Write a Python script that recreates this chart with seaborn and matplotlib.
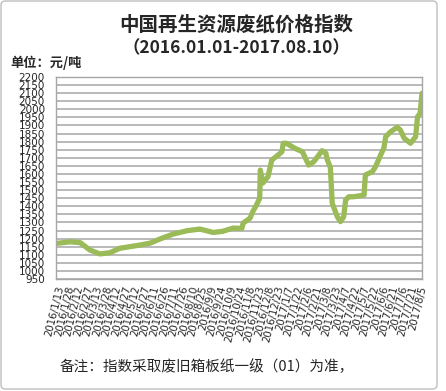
import numpy as np
import pandas as pd
import matplotlib
matplotlib.use("Agg")
import matplotlib.pyplot as plt
from matplotlib.patches import FancyBboxPatch
import seaborn as sns

# index readings
dates = ["2016-01-13", "2016-02-04", "2016-02-20", "2016-03-06", "2016-03-22",
         "2016-04-07", "2016-04-22", "2016-05-08", "2016-05-24", "2016-06-09",
         "2016-06-24", "2016-07-15", "2016-08-06", "2016-08-26", "2016-09-16",
         "2016-10-01", "2016-10-17", "2016-10-31", "2016-11-02", "2016-11-13",
         "2016-11-17", "2016-11-23", "2016-11-28", "2016-11-29", "2016-12-03",
         "2016-12-11", "2016-12-17", "2016-12-27", "2017-01-02", "2017-01-04",
         "2017-01-09", "2017-01-22", "2017-02-03", "2017-02-13", "2017-02-21",
         "2017-02-27", "2017-03-06", "2017-03-12", "2017-03-14", "2017-03-19",
         "2017-03-22", "2017-03-30", "2017-04-04", "2017-04-09", "2017-04-12",
         "2017-04-17", "2017-04-25", "2017-05-11", "2017-05-13", "2017-05-24",
         "2017-05-29", "2017-06-06", "2017-06-11", "2017-06-14", "2017-06-22",
         "2017-07-02", "2017-07-07", "2017-07-13", "2017-07-23", "2017-07-31",
         "2017-08-03", "2017-08-07", "2017-08-10"]
values = [1170, 1180, 1175, 1130, 1105,
          1113, 1140, 1150, 1160, 1172,
          1197, 1228, 1249, 1259, 1238,
          1245, 1265, 1263, 1296, 1327,
          1366, 1408, 1450, 1624, 1544,
          1583, 1686, 1717, 1738, 1790,
          1790, 1759, 1738, 1655, 1676,
          1707, 1744, 1728, 1690, 1640,
          1418, 1335, 1305, 1335, 1439,
          1459, 1459, 1470, 1594, 1614,
          1645, 1717, 1759, 1831, 1862,
          1889, 1872, 1821, 1790, 1831,
          1954, 1975, 2099]

tick_start = "2016-01-13"
tick_end = "2017-08-05"
y_ticks = list(range(950, 2201, 50))

df = pd.DataFrame({"date": pd.to_datetime(dates), "value": values})

sns.set_style("white")
plt.rcParams["font.family"] = ["Noto Sans CJK SC", "DejaVu Sans"]

fig = plt.figure(figsize=(4.46, 3.91), dpi=100)
ax = fig.add_axes([56 / 446, 1 - 279 / 391, 366 / 446, 202 / 391])

sns.lineplot(data=df, x="date", y="value", ax=ax, color="#9BBB59", lw=3.8,
             solid_joinstyle="round", solid_capstyle="round")

ax.set_xlim(pd.Timestamp("2016-01-13"), pd.Timestamp("2017-08-10"))
ax.set_ylim(950, 2200)
ax.set_yticks(y_ticks)
ax.set_yticklabels([str(v) for v in y_ticks], fontsize=7.5, family="DejaVu Sans")
ticks = pd.date_range(tick_start, tick_end, freq="15D")
ax.set_xticks(ticks)
ax.set_xticklabels([f"{d.year}/{d.month}/{d.day}" for d in ticks], fontsize=7.3,
                   rotation=76, ha="right", rotation_mode="anchor", family="DejaVu Sans")
ax.tick_params(axis="both", length=0)
ax.tick_params(axis="y", pad=8)
ax.tick_params(axis="x", pad=4)
ax.set_xlabel("")
ax.set_ylabel("")
ax.grid(axis="y", color="#A6A6A6", lw=1.1)
ax.set_axisbelow(True)
for s in ax.spines.values():
    s.set_color("#A6A6A6")
    s.set_linewidth(1.0)

fig.text(236 / 446, 1 - 25 / 391, "中国再生资源废纸价格指数", ha="center", va="center",
         fontsize=14, fontweight="bold")
fig.text(236 / 446, 1 - 48 / 391, "（2016.01.01-2017.08.10）", ha="center", va="center",
         fontsize=12.5, fontweight="bold")
fig.text(10 / 446, 1 - 63 / 391, "单位：元/吨", ha="left", va="center",
         fontsize=9.5, fontweight="bold")
fig.text(60 / 446, 1 - 367 / 391, "备注：指数采取废旧箱板纸一级（01）为准，", ha="left",
         va="center", fontsize=10.5)

frame = FancyBboxPatch((1 / 446, 2 / 391), 436 / 446, 388 / 391,
                       boxstyle="round,pad=0,rounding_size=0.01",
                       transform=fig.transFigure, fill=False,
                       edgecolor="#BFBFBF", lw=1.0)
fig.patches.append(frame)

fig.savefig("out.png", dpi=100)
